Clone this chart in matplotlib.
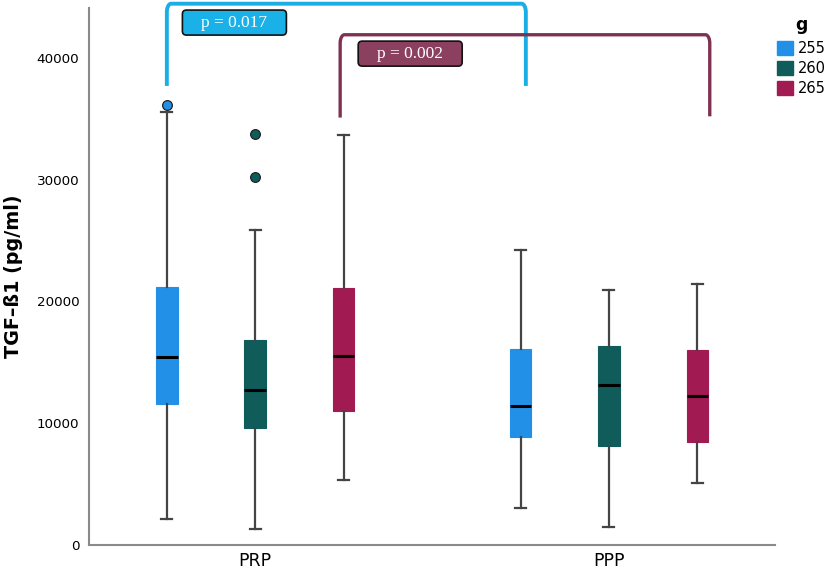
import numpy as np
import matplotlib.pyplot as plt
from matplotlib.patches import Patch, FancyBboxPatch
from matplotlib.transforms import IdentityTransform

# summary values (pg/ml)
conditions = ["PRP", "PPP"]
groups = ["255", "260", "265"]
colors = ["#2390E8", "#0F5C5B", "#A11A52"]
q1 = [[11600, 9600, 11000], [8900, 8100, 8450]]
med = [[15400, 12700, 15500], [11400, 13100, 12200]]
q3 = [[21200, 16800, 21100], [16100, 16350, 16050]]
wlo = [[2100, 1300, 5350], [3000, 1450, 5050]]
whi = [[35550, 25900, 33700], [24200, 20900, 21450]]
fliers = [[[36100], [33750, 30200], []], [[], [], []]]

# significance brackets: (left x, right x, foot y left, foot y right, top y, label)
brackets = [(-0.25, 0.765, 37700, 37700, 44450, "p = 0.017"),
            (0.24, 1.285, 35100, 35200, 41900, "p = 0.002")]
bracket_colors = ["#19AEE6", "#7E3152"]
label_colors = ["#1AB0E8", "#8C4060"]
label_pos = [(-0.059, 42900), (0.438, 40350)]

fig = plt.figure(figsize=(8.29, 5.73), dpi=100)
ax = fig.add_axes([0.1074, 0.0489, 0.8277, 0.9372])

offsets = [-0.25, 0.0, 0.25]
for ci in range(len(conditions)):
    for gi in range(len(groups)):
        st = dict(med=med[ci][gi], q1=q1[ci][gi], q3=q3[ci][gi],
                  whislo=wlo[ci][gi], whishi=whi[ci][gi], fliers=fliers[ci][gi])
        ax.bxp([st], positions=[ci + offsets[gi]], widths=0.061, capwidths=0.031,
               patch_artist=True, showfliers=True,
               boxprops=dict(facecolor=colors[gi], edgecolor=colors[gi], lw=0.8),
               medianprops=dict(color="black", lw=2.2),
               whiskerprops=dict(color="#444444", lw=1.6),
               capprops=dict(color="#444444", lw=1.6),
               flierprops=dict(marker="o", markersize=7, markerfacecolor=colors[gi],
                               markeredgecolor="#222222", markeredgewidth=0.9))

ax.set_xlim(-0.47, 1.47)
ax.set_ylim(0, 44100)
ax.set_xticks([0, 1])
ax.set_xticklabels(conditions, fontsize=12.5)
ax.set_yticks([0, 10000, 20000, 30000, 40000])
ax.set_yticklabels(["0", "10000", "20000", "30000", "40000"], fontsize=9.7)
ax.tick_params(axis="both", length=0)
ax.tick_params(axis="y", pad=7)
ax.tick_params(axis="x", pad=5)
for s in ["top", "right"]:
    ax.spines[s].set_visible(False)
for s in ["left", "bottom"]:
    ax.spines[s].set_color("#8a8a8a")
    ax.spines[s].set_linewidth(1.5)
ax.set_ylabel("TGF–ß1 (pg/ml)", fontsize=13.8, fontweight="bold", labelpad=10)

# brackets with rounded corners
rx, ry = 0.012, 700
t = np.linspace(0, np.pi / 2, 12)
for (x0, x1, yl, yr, yt, lab), bc in zip(brackets, bracket_colors):
    xs = np.concatenate([[x0], x0 + rx - rx * np.cos(t), x1 - rx + rx * np.sin(t), [x1]])
    ys = np.concatenate([[yl], yt - ry + ry * np.sin(t), yt - ry + ry * np.cos(t), [yr]])
    ax.plot(xs, ys, color=bc, lw=2.8 if bc == bracket_colors[0] else 2.4,
            solid_capstyle="butt", clip_on=False, zorder=5)

# p-value labels
fig.canvas.draw()
for (x0, x1, yl, yr, yt, lab), lc, (lx, ly) in zip(brackets, label_colors, label_pos):
    px, py = ax.transData.transform((lx, ly))
    w, h = 104, 25
    box = FancyBboxPatch((px - w / 2, py - h / 2), w, h,
                         boxstyle="round,pad=0,rounding_size=4",
                         facecolor=lc, edgecolor="#111111", lw=1.2,
                         transform=IdentityTransform(), zorder=6)
    fig.patches.append(box)
    fig.text(px / fig.bbox.width, py / fig.bbox.height, lab, color="white",
             family="Liberation Serif", fontsize=12.5, ha="center", va="center",
             zorder=7)

handles = [Patch(facecolor=c, edgecolor=c) for c in colors]
leg = fig.legend(handles, groups, title="g", loc="upper left",
                 bbox_to_anchor=(0.937, 0.972), frameon=False, fontsize=10.5,
                 handlelength=1.1, handleheight=1.1, handletextpad=0.35,
                 labelspacing=0.35, borderpad=0, borderaxespad=0,
                 title_fontproperties=dict(weight="bold", size=12.5))
leg._legend_box.sep = 5

fig.savefig("out.png", dpi=100)
